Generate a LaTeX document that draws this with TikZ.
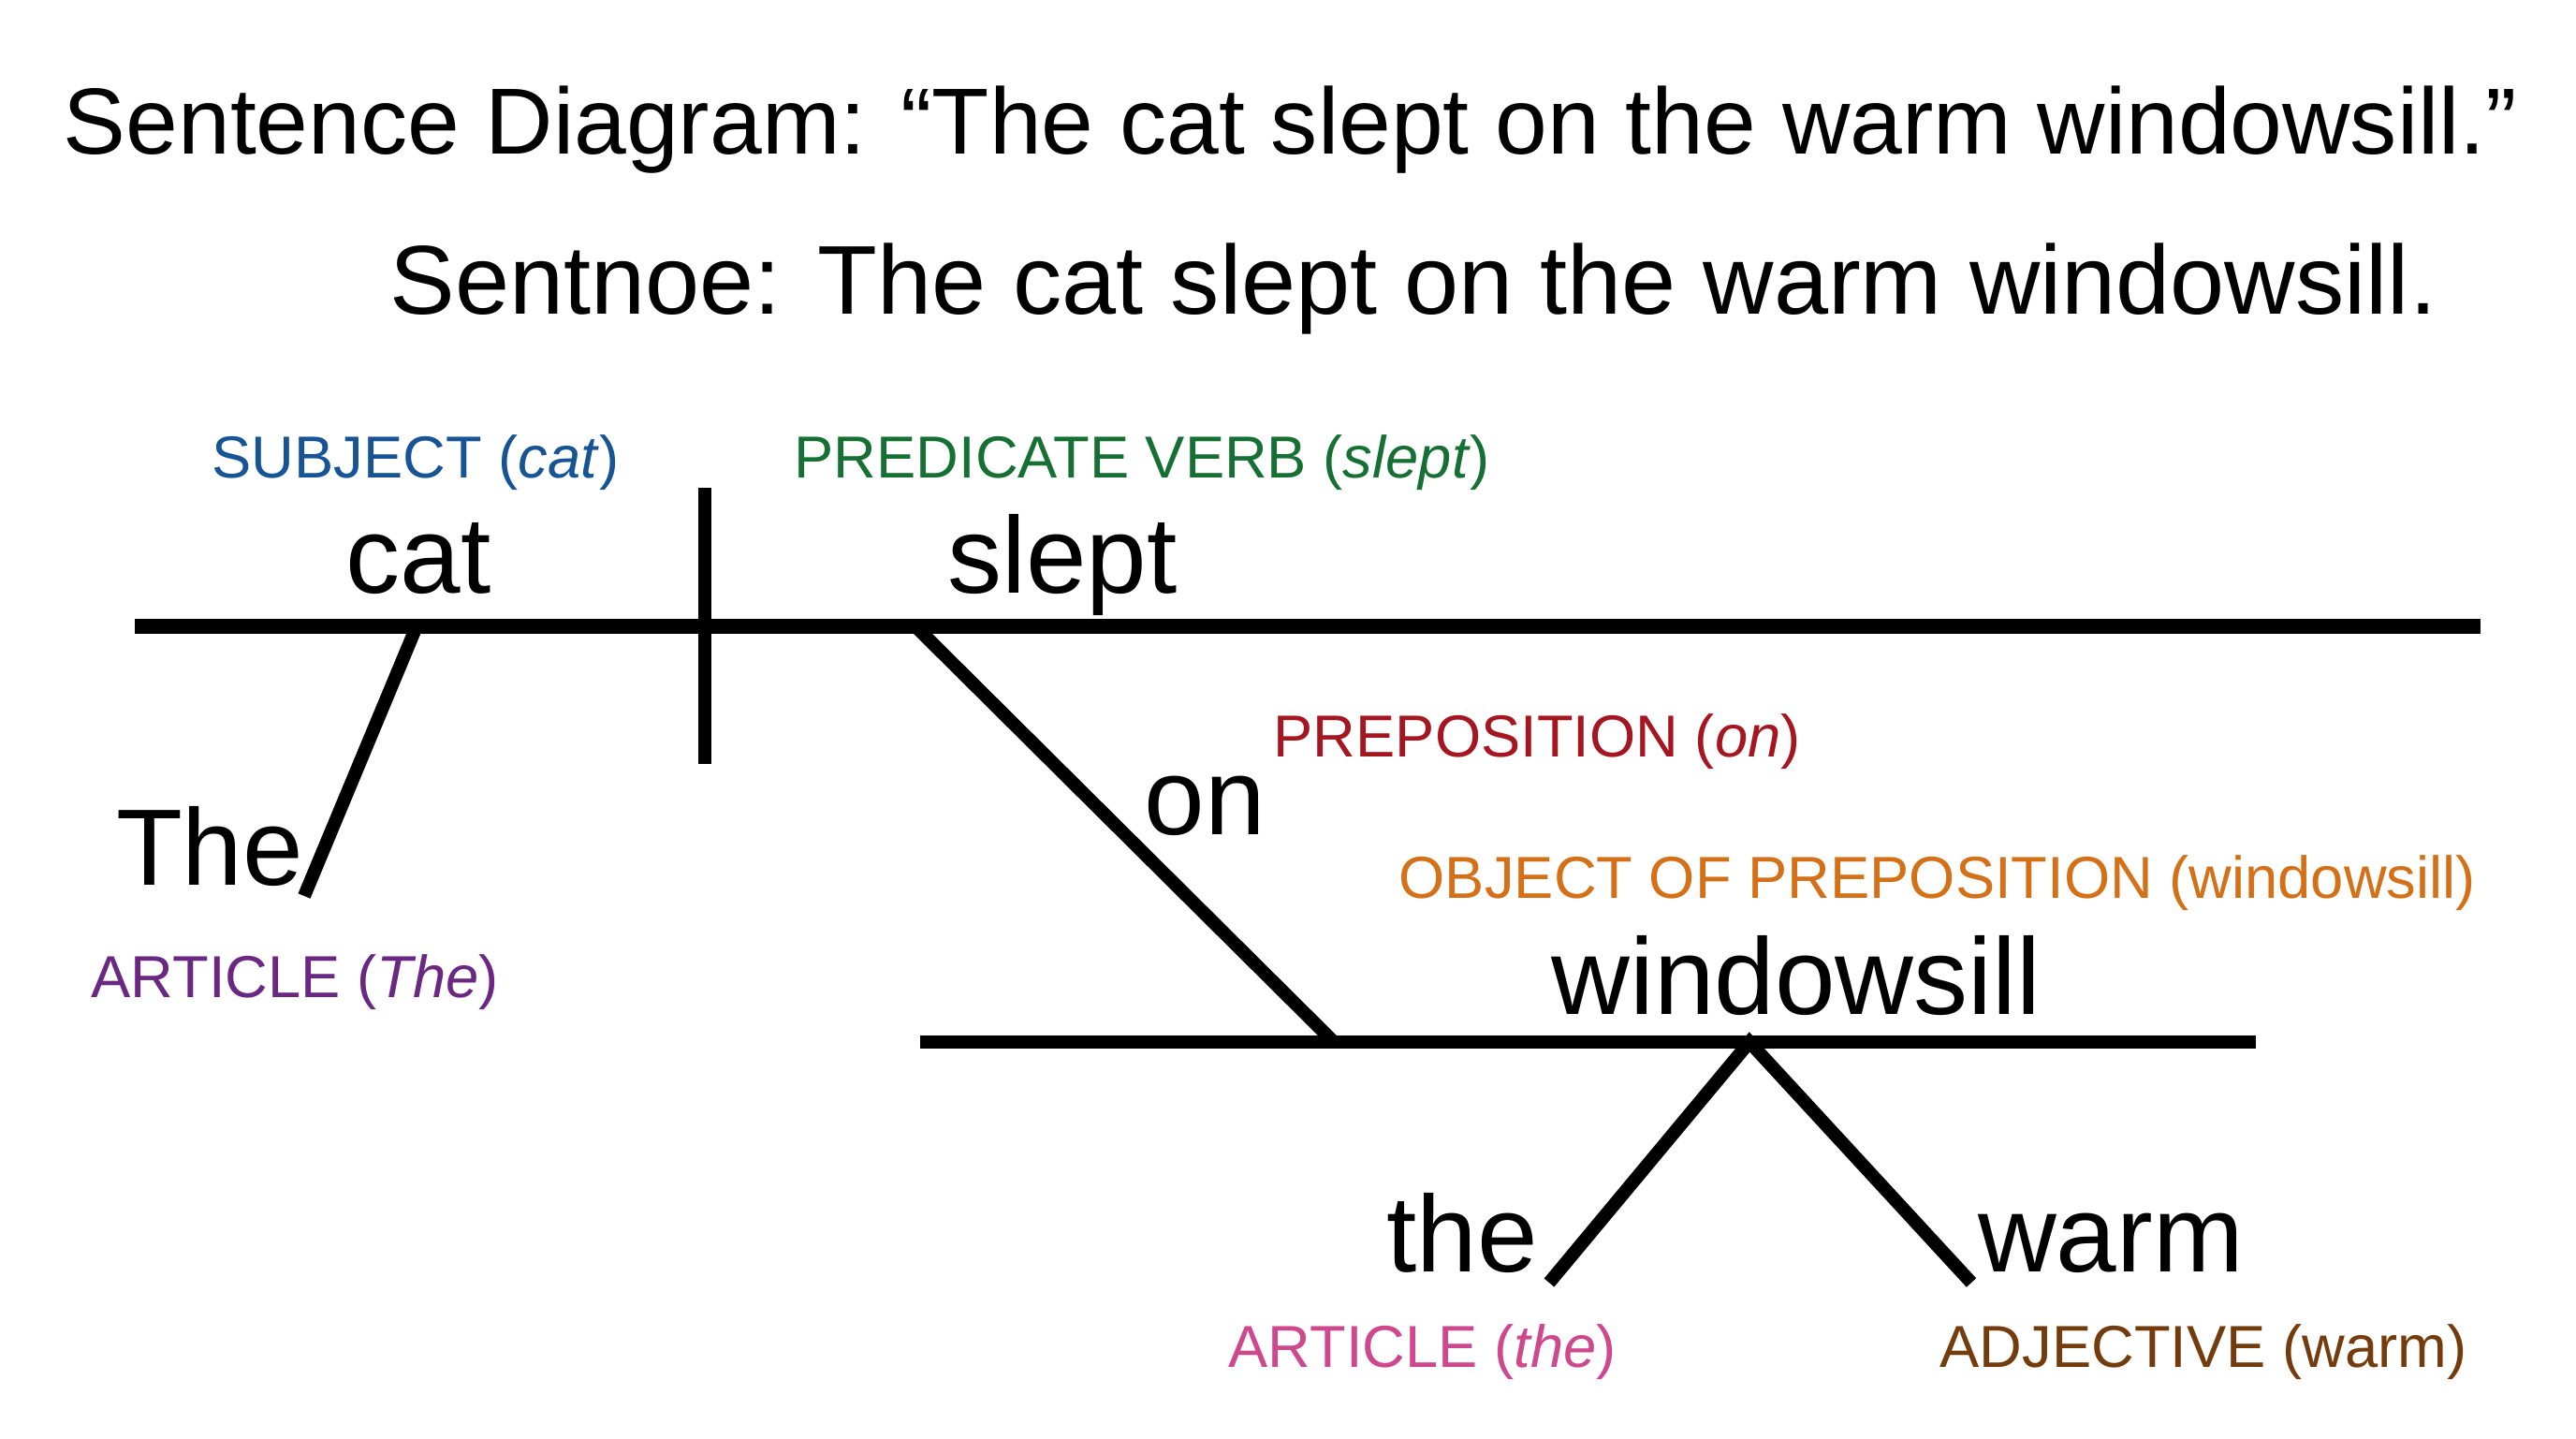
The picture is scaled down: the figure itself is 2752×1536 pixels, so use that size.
\documentclass[tikz,border=0pt]{standalone}
\usepackage{fontspec}
\setmainfont{Liberation Sans}
\definecolor{subjblue}{RGB}{22,84,150}
\definecolor{verbgreen}{RGB}{22,112,52}
\definecolor{prepred}{RGB}{165,22,32}
\definecolor{objorange}{RGB}{212,112,24}
\definecolor{artpurple}{RGB}{106,40,130}
\definecolor{artpink}{RGB}{206,72,142}
\definecolor{adjbrown}{RGB}{116,60,12}
\begin{document}
\begin{tikzpicture}[x=0.01cm,y=-0.01cm,inner sep=0pt,
 word/.style={anchor=base,font=\fontsize{33}{39}\selectfont},
 role/.style={anchor=base west,font=\fontsize{18}{22}\selectfont},
 heading/.style={anchor=base west,font=\fontsize{28.5}{34}\selectfont},
 mainline/.style={line width=4.8pt},
 branch/.style={line width=4pt}
]
\useasboundingbox (0,0) rectangle (2752,1536);
\node[heading] (title) at (67,164) {Sentence Diagram: “The cat slept on the warm windowsill.”};
\node[heading,font=\fontsize{29.7}{35}\selectfont] (sub) at (416,335) {Sentnoe: The cat slept on the warm windowsill.};
% base line and divider
\coordinate (baseL) at (144,669); \coordinate (baseR) at (2650,669);
\coordinate (divT) at (753,521); \coordinate (divB) at (753,816);
\draw[mainline] (baseL)--(baseR);
\draw[branch] (divT)--(divB);
% modifiers
\coordinate (catfoot) at (445,669); \coordinate (theend) at (325,957);
\coordinate (onfoot) at (978,669); \coordinate (onend) at (1425,1113);
\coordinate (objL) at (983,1113); \coordinate (objR) at (2410,1113);
\coordinate (apex) at (1869,1113); \coordinate (thetip) at (1655,1370); \coordinate (warmtip) at (2106,1370);
\draw[branch] (catfoot)--(theend); \draw[branch] (onfoot)--(onend);
\draw[branch] (objL)--(objR);
\draw[branch] (thetip)--(apex)--(warmtip);
% words
\node[word] (cat) at (447,633) {cat}; \node[word] (slept) at (1135,633) {slept};
\node[word] (The) at (224,945) {The}; \node[word] (on) at (1287,891) {on};
\node[word] (windowsill) at (1919,1083) {windowsill};
\node[word] (the) at (1562,1358) {the}; \node[word] (warm) at (2255,1358) {warm};
% roles
\node[role,text=subjblue] (subj) at (226,510) {SUBJECT (\textit{cat})};
\node[role,text=verbgreen] (verb) at (848,510) {PREDICATE VERB (\textit{slept})};
\node[role,text=prepred] (prep) at (1360,808) {PREPOSITION (\textit{on})};
\node[role,text=objorange] (obj) at (1494,959) {OBJECT OF PREPOSITION (windowsill)};
\node[role,text=artpurple] (art1) at (97,1065) {ARTICLE (\textit{The})};
\node[role,text=artpink] (art2) at (1312,1460) {ARTICLE (\textit{the})};
\node[role,text=adjbrown] (adj) at (2072,1460) {ADJECTIVE (warm)};
\end{tikzpicture}
\end{document}
